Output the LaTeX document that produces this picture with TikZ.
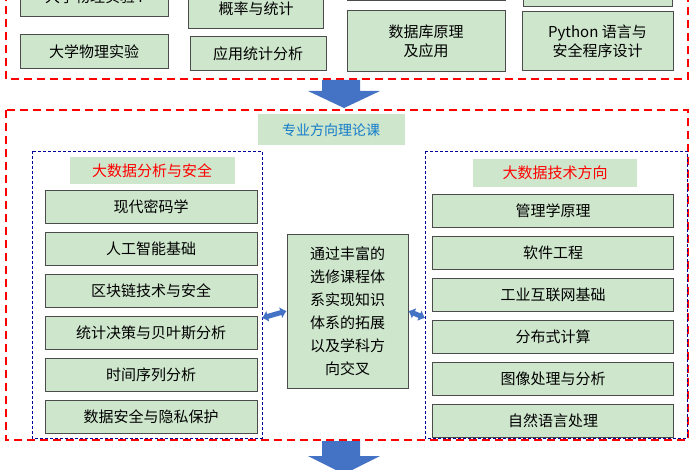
\documentclass[tikz,border=0pt]{standalone}
\usepackage{fontspec}
\setmainfont{Noto Sans CJK SC}
\usetikzlibrary{arrows.meta}
\definecolor{coursegreen}{RGB}{206,230,204}
\definecolor{arrowblue}{RGB}{68,114,196}
\tikzset{
	course/.style={draw=black!70, fill=coursegreen, line width=1pt, align=center, inner sep=0pt, font=\fontsize{15}{19}\selectfont},
	redbox/.style={draw=red, dashed, dash pattern=on 8pt off 5pt, line width=2.2pt},
	bluebox/.style={draw=blue!60!black, densely dashed, line width=0.9pt},
	bigarrow/.style={fill=arrowblue, draw=none},
	twoway/.style={{Latex[length=6pt,width=12pt]}-{Latex[length=6pt,width=12pt]}, line width=5pt, arrowblue},
}
\begin{document}
\begin{tikzpicture}[x=1pt, y=-1pt]
	\useasboundingbox (0,0) rectangle (700,470);
	
	%% upper block
	\draw [redbox] (6,-20) -- (6,79) -- (688,79) -- (688,-20);
	\node [course, minimum width=148, minimum height=40] (phyI) at (94,-3) {大学物理实验 I};
	\node [course, minimum width=148, minimum height=34] (phyLab) at (94,52) {大学物理实验};
	\node [course, minimum width=135, minimum height=40] (prob) at (256,9) {概率与统计};
	\node [course, minimum width=136, minimum height=34] (stat) at (258,54) {应用统计分析};
	\node [course, minimum width=158, minimum height=20] (colC) at (426,-9) {};
	\node [course, minimum width=158, minimum height=61] (db) at (426,41.5) {数据库原理\\及应用};
	\node [course, minimum width=149, minimum height=20] (colD) at (598,-3) {};
	\node [course, minimum width=151, minimum height=59] (py) at (597.5,41.5) {Python 语言与\\安全程序设计};
	
	%% arrow down
	\fill [bigarrow] (322,80) -- (360,80) -- (360,91) -- (380,91) -- (344,108) -- (308,91) -- (322,91) -- cycle;
	
	%% lower block
	\draw [redbox] (6,110) rectangle (688,440);
	\node [fill=coursegreen, minimum width=147, minimum height=31, text=cyan!60!blue, font=\fontsize{14}{16}\selectfont] (theory) at (331,130) {专业方向理论课};
	
	\draw [bluebox] (32,151) rectangle (262,438);
	\node [fill=coursegreen, minimum width=165, minimum height=27, text=red, font=\fontsize{15}{17}\selectfont] (left) at (152,171) {大数据分析与安全};
	\draw [bluebox] (425,151) rectangle (687,438);
	\node [fill=coursegreen, minimum width=164, minimum height=28, text=red, font=\fontsize{15}{17}\selectfont] (right) at (555,173) {大数据技术方向};
	
	\foreach \name/\txt [count=\i] in {l1/现代密码学, l2/人工智能基础, l3/区块链技术与安全, l4/统计决策与贝叶斯分析, l5/时间序列分析, l6/数据安全与隐私保护}
		\node [course, minimum width=212, minimum height=33] (\name) at (151,165+42*\i) {\txt};
	\foreach \name/\txt [count=\i] in {r1/管理学原理, r2/软件工程, r3/工业互联网基础, r4/分布式计算, r5/图像处理与分析, r6/自然语言处理}
		\node [course, minimum width=241, minimum height=33] (\name) at (553,169+42*\i) {\txt};
	
	\node [course, minimum width=121, minimum height=154, font=\fontsize{15}{23}\selectfont] (mid) at (347.5,311) {通过丰富的\\选修课程体\\系实现知识\\体系的拓展\\以及学科方\\向交叉};
	
	\draw [twoway] (262,318) -- (mid.west);
	\draw [twoway] (mid.east) -- (425,318);
	
	%% arrow down
	\fill [bigarrow] (322,441) -- (360,441) -- (360,456) -- (380,456) -- (344,474) -- (308,456) -- (322,456) -- cycle;
\end{tikzpicture}
\end{document}
